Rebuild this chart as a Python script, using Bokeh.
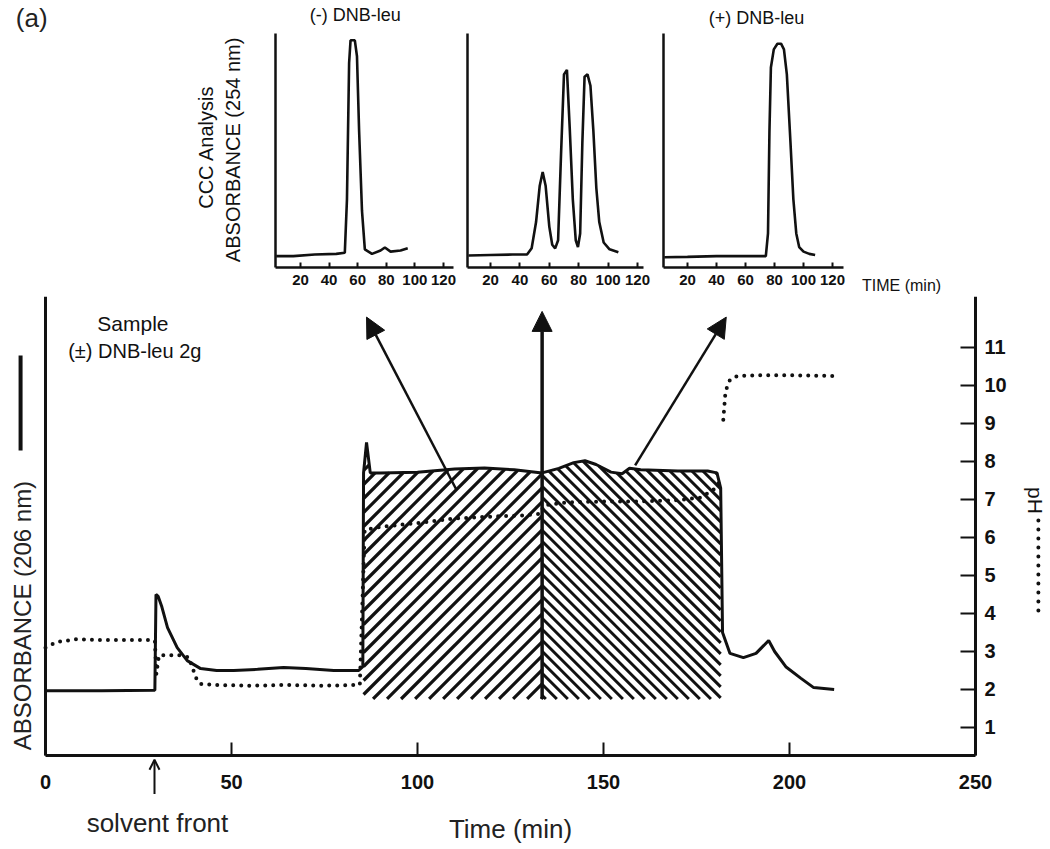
from math import pi
import numpy as np
from bokeh.plotting import figure
from bokeh.models import Label, Arrow, NormalHead, OpenHead, LinearAxis, FixedTicker
from bokeh.layouts import column, row
from bokeh.embed import file_html
from bokeh.resources import INLINE

# ---------------- data ----------------
# Main run: absorbance at 206 nm (relative units drawn on the pH scale) vs time (min)
abs_time = [0, 15, 29.4, 29.7, 30.3, 31.2, 32.8, 35.4, 38.1, 41.7, 46, 50.6, 57, 64, 70, 77.5, 84.2,
            85.3, 85.5, 86.3, 87.3, 90, 100, 110, 118, 126, 133.5, 138, 142, 145, 148, 152, 155, 157,
            160, 170, 178, 180.5, 181.5, 182, 184, 187.6, 191, 194.4, 196, 199, 203, 206.5, 212]
abs_val = [1.97, 1.97, 1.98, 4.5, 4.45, 4.2, 3.63, 3.1, 2.76, 2.55, 2.5, 2.5, 2.53, 2.58, 2.55, 2.5, 2.5,
           2.6, 7.7, 8.5, 7.7, 7.7, 7.72, 7.8, 7.83, 7.78, 7.7, 7.82, 7.97, 8.02, 7.92, 7.72, 7.68, 7.82,
           7.78, 7.75, 7.75, 7.7, 7.3, 3.5, 2.95, 2.84, 2.95, 3.29, 3.0, 2.6, 2.3, 2.05, 2.0]

# pH of the eluate (dotted)
ph_time = [0, 3, 8, 15, 22, 28, 29.4, 29.8, 30.5, 33, 36, 38.5, 40.5, 41.5, 45, 55, 65, 75, 84.5, 85.8,
           90, 100, 110, 120, 128, 133, 134, 140, 150, 160, 170, 176, 179.5, 181.5, 181.8,
           182.2, 182.8, 184, 186, 192, 200, 206, 211.5]
ph_val = [3.1, 3.25, 3.32, 3.3, 3.3, 3.3, 3.28, 2.4, 2.9, 2.9, 2.9, 2.85, 2.3, 2.15, 2.12, 2.1, 2.12, 2.1,
          2.12, 6.2, 6.28, 6.38, 6.5, 6.55, 6.58, 6.62, 6.85, 6.92, 6.95, 6.95, 6.98, 7.05, 7.25, 7.5,
          float("nan"), 9.1, 9.85, 10.15, 10.25, 10.27, 10.27, 10.26, 10.25]

# fraction boundaries (min) of the collected hatched zones
frac_start, frac_split, frac_end = 85.5, 133.5, 181.5
hatch_floor = 1.75

time_ticks = [0, 50, 100, 150, 200, 250]
ph_ticks = [1, 2, 3, 4, 5, 6, 7, 8, 9, 10, 11]
inset_ticks = [20, 40, 60, 80, 100, 120]

# CCC analysis insets: absorbance at 254 nm vs time (min)
ins1_time = [3, 15, 30, 45, 51, 52.5, 54, 55, 58, 59.5, 61, 63, 65, 70, 76, 79, 83, 90, 95]
ins1_abs = [0.05, 0.05, 0.057, 0.06, 0.065, 0.3, 0.9, 1.0, 1.0, 0.93, 0.6, 0.25, 0.08, 0.06, 0.075,
            0.088, 0.07, 0.075, 0.085]
ins2_time = [5, 20, 35, 45, 48, 51, 53.5, 55.5, 57.5, 60, 62, 64, 66, 68, 70, 72, 74, 76, 78, 79.5,
             81, 82.5, 84, 86, 88, 90, 92, 94, 97, 101, 107]
ins2_abs = [0.053, 0.055, 0.057, 0.058, 0.085, 0.2, 0.36, 0.42, 0.36, 0.18, 0.1, 0.084, 0.12, 0.5, 0.85,
            0.87, 0.6, 0.3, 0.12, 0.09, 0.15, 0.55, 0.84, 0.85, 0.8, 0.6, 0.35, 0.2, 0.11, 0.08, 0.067]
ins3_time = [4, 20, 40, 60, 74, 75.5, 76.5, 77.5, 79.5, 82, 84.5, 86.5, 88.5, 91, 93, 95, 97, 100, 104, 108]
ins3_abs = [0.045, 0.047, 0.05, 0.05, 0.05, 0.15, 0.6, 0.88, 0.96, 0.985, 0.985, 0.96, 0.85, 0.55, 0.3,
            0.15, 0.09, 0.07, 0.06, 0.055]

FONT = "Liberation Sans"
INK = "#111111"
INK2 = "#222222"


def bare_fig(width, height, xr, yr):
    p = figure(width=width, height=height, x_range=xr, y_range=yr,
               x_axis_type=None, y_axis_type=None,
               output_backend="svg", toolbar_location=None,
               min_border_left=0, min_border_right=0, min_border_top=0, min_border_bottom=0)
    p.outline_line_color = None
    return p


def axis(loc, bounds, ticks, tick_in, lw, font_size, standoff, bold=True):
    ax = LinearAxis(fixed_location=loc, bounds=bounds, ticker=FixedTicker(ticks=ticks))
    ax.major_tick_in = tick_in
    ax.major_tick_out = 0
    ax.minor_tick_in = 0
    ax.minor_tick_out = 0
    ax.axis_line_width = lw
    ax.axis_line_color = INK
    ax.major_tick_line_width = 2
    ax.major_tick_line_color = INK
    ax.major_label_text_font = FONT
    ax.major_label_text_font_size = font_size
    ax.major_label_text_font_style = "bold" if bold else "normal"
    ax.major_label_text_color = INK
    ax.major_label_standoff = standoff
    return ax


def txt(p, x, y, s, size, angle=0, align="center", color=INK):
    p.add_layout(Label(x=x, y=y, text=s, text_font=FONT, text_font_size=size, angle=angle,
                       text_align=align, text_baseline="middle", text_color=color))


# ---------------- insets (top band, y 0..296) ----------------
INS_Y = (-0.1276, 1.1752)


def make_inset(width, xr, x0, x1, t, a):
    p = bare_fig(width, 296, xr, INS_Y)
    p.add_layout(axis(0, (x0, x1), inset_ticks, 5, 2.5, "15px", 7), "below")
    p.add_layout(axis(x0, (0, 1.03), [], 0, 2.5, "0px", 0), "left")
    p.line(t, a, line_width=2.6, color=INK)
    return p


f1 = make_inset(460, (-189.8, 131.9), 2.5, 127, ins1_time, ins1_abs)
f2 = make_inset(193, (-0.41, 130.9), 4.3, 124, ins2_time, ins2_abs)
f3 = make_inset(397, (-3.45, 270.3), 3.5, 127.5, ins3_time, ins3_abs)

txt(f1, -168, 1.096, "(a)", "26px", color=INK2)
txt(f1, 58.3, 1.11, "(-) DNB-leu", "18px")
txt(f1, -46.4, 0.53, "CCC Analysis", "20px", angle=pi / 2)
txt(f1, -27.4, 0.53, "ABSORBANCE  (254 nm)", "20px", angle=pi / 2)
txt(f3, 67.6, 1.097, "(+) DNB-leu", "18px")
txt(f3, 167.6, -0.079, "TIME (min)", "16px")

# ---------------- main chart (y 296..849) ----------------
MX = (-12.097, 270.16)
MY = (-2.2105, 12.342)
MW, MH = 1050, 553
p = bare_fig(MW, MH, MX, MY)
sx = MW / (MX[1] - MX[0])   # px per minute
sy = MH / (MY[1] - MY[0])   # px per pH unit

t_arr = np.array(abs_time)
a_arr = np.array(abs_val)
left_mask = (t_arr >= frac_start) & (t_arr <= frac_split) & (a_arr >= 7)
right_mask = (t_arr >= frac_split) & (t_arr <= frac_end) & (a_arr >= 7)


def hatch(ct, cy, forward, spacing_px):
    """45-degree hatch lines clipped between hatch_floor and the absorbance curve."""
    xa, xb = ct[0], ct[-1]
    grid = np.linspace(xa, xb, 3000)
    top = np.interp(grid, ct, cy)
    m = sx / sy
    step = spacing_px / sx
    span = (top.max() - hatch_floor) / m
    x0s, y0s, x1s, y1s = [], [], [], []
    for c in np.arange(xa - span, xb + span, step):
        line = hatch_floor + (m * (grid - c) if forward else m * (c - grid))
        ok = (line >= hatch_floor) & (line <= top)
        if not ok.any():
            continue
        idx = np.flatnonzero(ok)
        if forward:
            i0 = idx[0]
            j = i0
            while j + 1 < len(grid) and ok[j + 1]:
                j += 1
            i1 = j
        else:
            i1 = idx[-1]
            j = i1
            while j - 1 >= 0 and ok[j - 1]:
                j -= 1
            i0 = j
        if i1 - i0 < 2:
            continue
        x0s.append(grid[i0]); y0s.append(line[i0]); x1s.append(grid[i1]); y1s.append(line[i1])
    return x0s, y0s, x1s, y1s


hx0, hy0, hx1, hy1 = hatch(t_arr[left_mask], a_arr[left_mask], True, 14)
p.segment(hx0, hy0, hx1, hy1, line_width=3.2, color=INK)
hx0, hy0, hx1, hy1 = hatch(t_arr[right_mask], a_arr[right_mask], False, 11)
p.segment(hx0, hy0, hx1, hy1, line_width=3, color=INK)

p.line(ph_time, ph_val, line_width=4, line_dash="0 8", line_cap="round", color=INK)
p.line(abs_time, abs_val, line_width=3, color=INK)

# arrows from the fractions to the CCC analyses
head = lambda: NormalHead(size=20, fill_color=INK, line_color=INK)
p.add_layout(Arrow(end=head(), x_start=frac_split, y_start=hatch_floor, x_end=frac_split, y_end=11.95,
                   line_width=3.5, line_color=INK))
p.add_layout(Arrow(end=head(), x_start=110.5, y_start=7.25, x_end=86.3, y_end=11.8,
                   line_width=2.5, line_color=INK))
p.add_layout(Arrow(end=head(), x_start=158.5, y_start=7.9, x_end=183, y_end=11.8,
                   line_width=2.5, line_color=INK))

# axes
Y_BASE = 0.263
xa = axis(Y_BASE, (0, 250), time_ticks, 13, 3, "20px", 19)
xa.axis_label = "Time (min)"
xa.axis_label_text_font = FONT
xa.axis_label_text_font_size = "26px"
xa.axis_label_text_font_style = "normal"
xa.axis_label_text_color = INK2
xa.axis_label_standoff = 22
p.add_layout(xa, "below")
p.add_layout(axis(0, (Y_BASE, 12.342), [], 0, 3, "0px", 0), "left")
p.add_layout(axis(250, (Y_BASE, 12.342), ph_ticks, 15, 3, "20px", 9), "right")

# texts and keys
txt(p, 23.5, 11.63, "Sample", "21px")
txt(p, 24, 10.9, "(±) DNB-leu 2g", "20px")
txt(p, -6.3, 0.4, "ABSORBANCE (206 nm)", "24px", angle=pi / 2, align="left", color=INK2)
p.add_layout(Arrow(end=None, x_start=-6.7, y_start=8.29, x_end=-6.7, y_end=10.79,
                   line_width=4, line_color=INK))
txt(p, 266.1, 7.33, "pH", "21px", angle=-pi / 2, align="left")
p.add_layout(Arrow(end=None, x_start=266.9, y_start=6.45, x_end=266.9, y_end=3.9,
                   line_width=4, line_dash="0 9", line_cap="round", line_color=INK))
txt(p, 30.1, -1.5, "solvent front", "26px", color=INK2)
p.add_layout(Arrow(end=OpenHead(size=10, line_width=2, line_color=INK), x_start=29.3, y_start=-0.75,
                   x_end=29.3, y_end=0.15, line_width=2, line_color=INK))

layout = column(row(f1, f2, f3), p)
open("out.html", "w").write(file_html(layout, INLINE))
